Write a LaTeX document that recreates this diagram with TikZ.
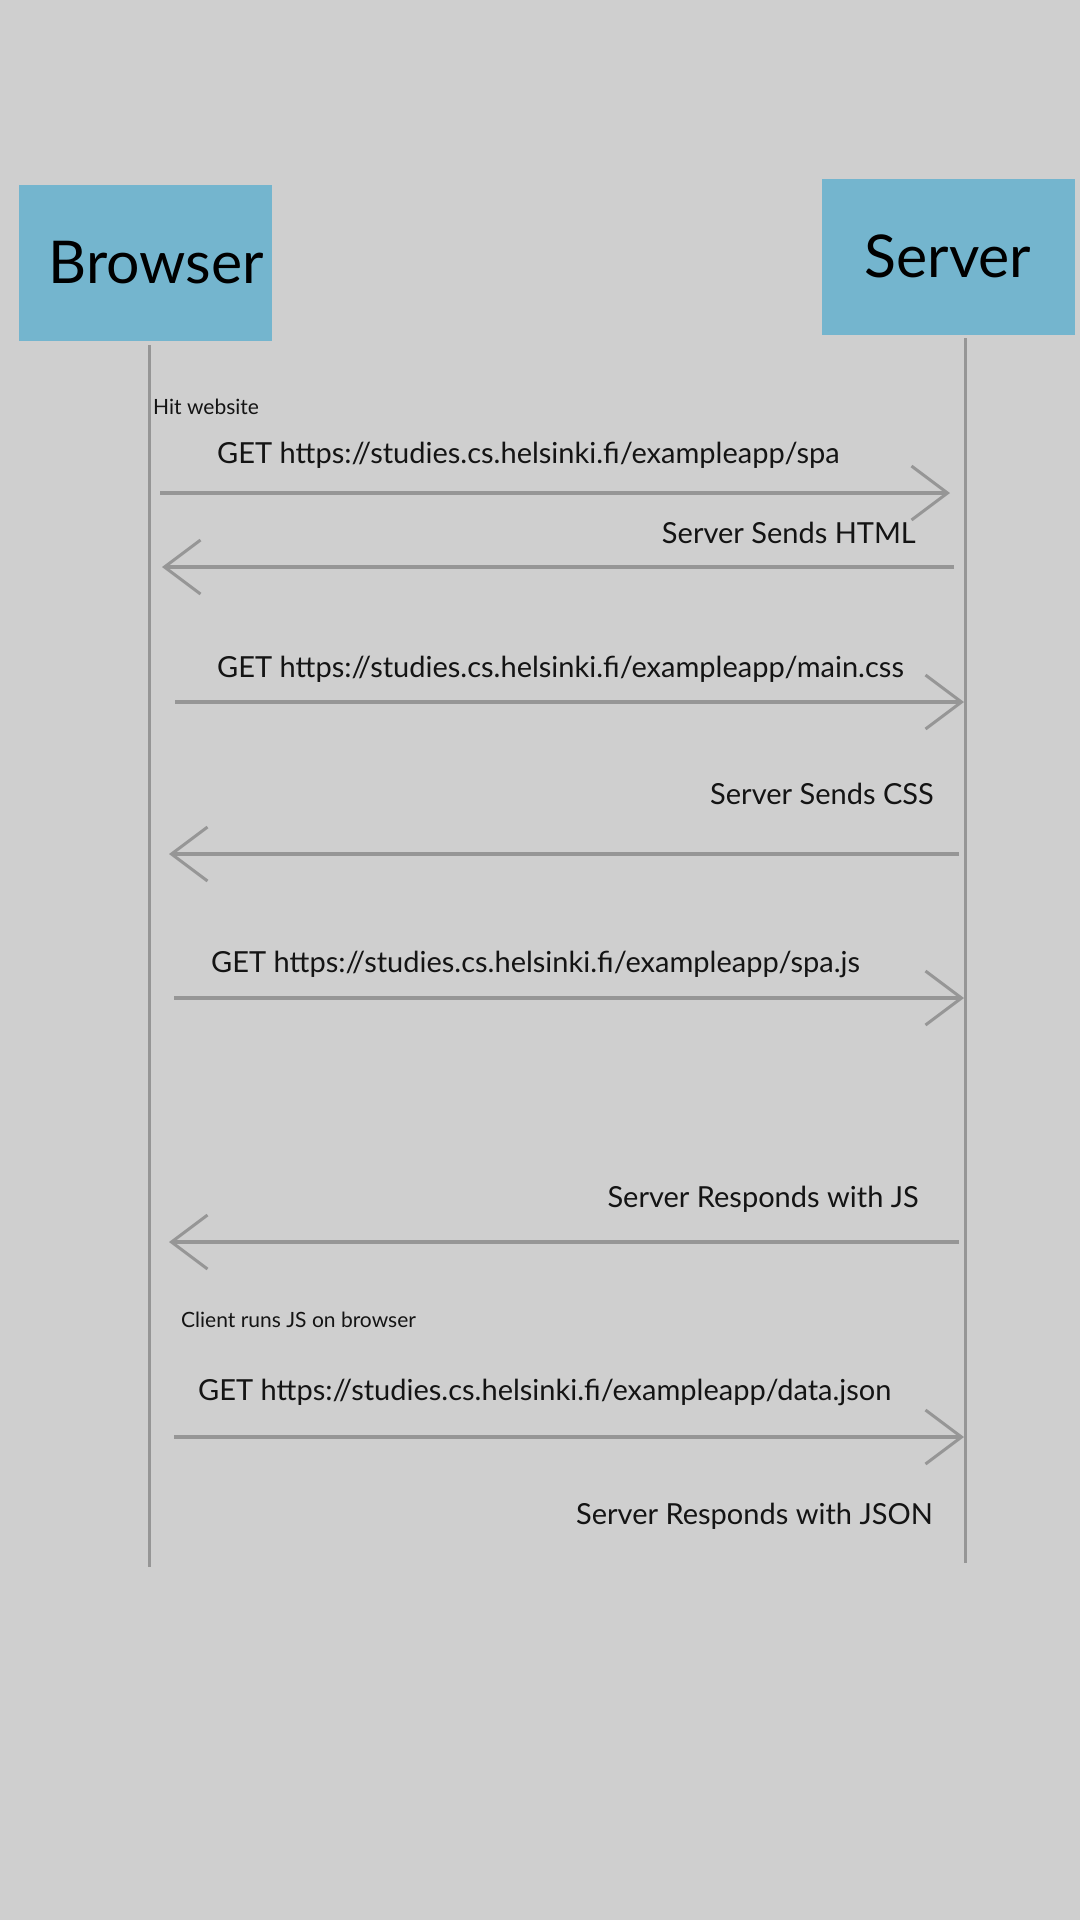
\documentclass[tikz,border=0pt]{standalone}
\usepackage{fontspec}
\setmainfont{Lato}
\usetikzlibrary{arrows.meta,positioning}

\definecolor{bgcolor}{RGB}{207,207,207}
\definecolor{boxblue}{RGB}{116,181,206}
\definecolor{linegray}{RGB}{150,150,150}
\definecolor{textblack}{RGB}{20,20,20}

\begin{document}
\begin{tikzpicture}[x=1pt,y=-1pt,
	actor/.style={fill=boxblue, minimum width=253pt, minimum height=156pt, inner sep=0pt, text=black, font=\fontsize{59}{62}\selectfont},
	lifeline/.style={draw=linegray, line width=3pt},
	msg/.style={draw=linegray, line width=4pt, -{Straight Barb[length=36pt,width=54pt,line width=3pt]}},
	msglabel/.style={inner sep=0pt, text=textblack, font=\fontsize{29}{32}\selectfont},
	note/.style={inner sep=0pt, text=textblack, font=\fontsize{21}{24}\selectfont}]

	% background
	\fill[bgcolor] (0,0) rectangle (1080,1920);

	% actors
	\node[actor] (browser) at (145.5,263) {\hspace*{22pt}Browser};
	\node[actor] (server) at (948,256.5) {Server};

	% lifelines
	\coordinate (btop) at (149,345);
	\coordinate (bbot) at (149,1567);
	\coordinate (stop) at (965,338);
	\coordinate (sbot) at (965,1563);
	\draw[lifeline] (btop) -- (bbot);
	\draw[lifeline] (stop) -- (sbot);

	\node[note, anchor=base west] (hit) at (153,414) {Hit website};

	% GET spa
	\coordinate (b1) at (160,493);
	\coordinate (s1) at (950,493);
	\node[msglabel, anchor=base west] (get1) at (217,463) {GET https://studies.cs.helsinki.fi/exampleapp/spa};
	\draw[msg] (b1) -- (s1);

	% HTML back
	\coordinate (s2) at (954,567);
	\coordinate (b2) at (162,567);
	\node[msglabel, anchor=base east] (res1) at (916,543) {Server Sends HTML};
	\draw[msg] (s2) -- (b2);

	% GET main.css
	\coordinate (b3) at (175,702);
	\coordinate (s3) at (964,702);
	\node[msglabel, anchor=base west] (get2) at (217,677) {GET https://studies.cs.helsinki.fi/exampleapp/main.css};
	\draw[msg] (b3) -- (s3);

	% CSS back
	\coordinate (s4) at (959,854);
	\coordinate (b4) at (169,854);
	\node[msglabel, anchor=base east] (res2) at (934,804) {Server Sends CSS};
	\draw[msg] (s4) -- (b4);

	% GET spa.js
	\coordinate (b5) at (174,998);
	\coordinate (s5) at (964,998);
	\node[msglabel, anchor=base west] (get3) at (211,972) {GET https://studies.cs.helsinki.fi/exampleapp/spa.js};
	\draw[msg] (b5) -- (s5);

	% JS back
	\coordinate (s6) at (959,1242);
	\coordinate (b6) at (169,1242);
	\node[msglabel, anchor=base east] (res3) at (919,1207) {Server Responds with JS};
	\draw[msg] (s6) -- (b6);

	\node[note, anchor=base west] (client) at (181,1327) {Client runs JS on browser};

	% GET data.json
	\coordinate (b7) at (174,1437);
	\coordinate (s7) at (964,1437);
	\node[msglabel, anchor=base west] (get4) at (198,1400) {GET https://studies.cs.helsinki.fi/exampleapp/data.json};
	\draw[msg] (b7) -- (s7);

	\node[msglabel, anchor=base east] (res4) at (933,1524) {Server Responds with JSON};
\end{tikzpicture}
\end{document}
